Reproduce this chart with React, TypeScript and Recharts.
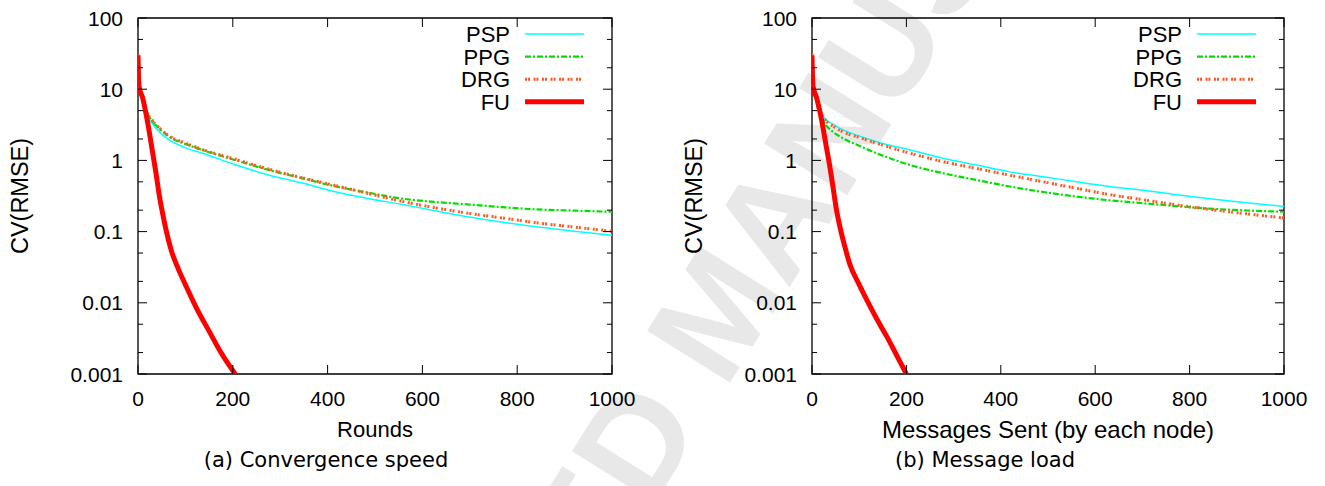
import React from 'react'
import { LineChart, Line, XAxis, YAxis, ReferenceArea, Legend, Label } from 'recharts'

const FONT = '"Liberation Sans", Arial, Helvetica, sans-serif'
const CAPTION_FONT = '"DejaVu Sans", sans-serif'

const SERIES_NAMES = ['PSP', 'PPG', 'DRG', 'FU']
const X_TICKS = [0, 200, 400, 600, 800, 1000]
const Y_MAJOR = [0.001, 0.01, 0.1, 1, 10, 100]
const Y_MINOR = [0.002, 0.005, 0.02, 0.05, 0.2, 0.5, 2, 5, 20, 50]

// (a) Convergence speed — x is rounds
const roundsX = [0, 2, 5, 10, 17, 27, 45, 66, 100, 136, 207, 277, 347, 418, 488, 558, 629, 699, 770, 840, 920, 1000]
const roundsPSP = [30, 16, 10, 6.5, 4.6, 3.5, 2.5, 1.94, 1.5, 1.26, 0.86, 0.62, 0.48, 0.36, 0.29, 0.24, 0.195, 0.16, 0.135, 0.117, 0.101, 0.089]
const roundsPPG = [30, 16, 10.5, 7, 5, 3.8, 2.8, 2.15, 1.7, 1.4, 1.0, 0.73, 0.56, 0.43, 0.35, 0.29, 0.26, 0.24, 0.22, 0.205, 0.197, 0.19]
const roundsDRG = [31, 16, 10.5, 7.2, 5, 3.9, 2.85, 2.2, 1.75, 1.42, 1.03, 0.75, 0.57, 0.44, 0.34, 0.265, 0.215, 0.18, 0.155, 0.133, 0.116, 0.101]
const roundsFUX = [0, 2, 10, 20, 30, 38, 45, 52, 60, 70, 85, 100, 125, 150, 175, 205]
const roundsFU = [30, 11, 7.5, 3.5, 1.4, 0.66, 0.32, 0.18, 0.1, 0.055, 0.03, 0.018, 0.008, 0.004, 0.002, 0.001]

// (b) Message load — x is messages sent by each node
const msgX = [0, 2, 5, 10, 17, 27, 45, 66, 100, 137, 208, 278, 349, 419, 490, 561, 631, 702, 772, 843, 920, 1000]
const msgPSP = [30, 16, 11, 7.5, 5.2, 3.9, 3.2, 2.67, 2.2, 1.83, 1.4, 1.07, 0.86, 0.69, 0.59, 0.5, 0.43, 0.38, 0.33, 0.29, 0.255, 0.225]
const msgPPG = [30, 15, 9.5, 6.3, 4.4, 3.3, 2.5, 2.04, 1.6, 1.26, 0.86, 0.66, 0.53, 0.43, 0.36, 0.31, 0.275, 0.25, 0.228, 0.21, 0.198, 0.19]
const msgDRG = [32, 16, 10.5, 7.2, 5, 3.8, 3.0, 2.5, 2.1, 1.74, 1.26, 0.96, 0.77, 0.62, 0.5, 0.405, 0.33, 0.28, 0.237, 0.205, 0.178, 0.155]
const msgFUX = [0, 2, 10, 20, 30, 38, 45, 52, 60, 70, 80, 100, 116, 140, 158, 180, 200]
const msgFU = [30, 11, 7.5, 3.8, 1.6, 0.8, 0.4, 0.2, 0.11, 0.06, 0.035, 0.018, 0.011, 0.0055, 0.0034, 0.0018, 0.001]

const STYLE: Record<string, { stroke: string; width: number; dash?: string }> = {
  PSP: { stroke: '#00ffff', width: 1.5 },
  PPG: { stroke: '#00e000', width: 2.2, dash: '6 2 2 2' },
  DRG: { stroke: '#ff5a22', width: 3, dash: '2 1 2 3.5' },
  FU: { stroke: '#ff0000', width: 5 },
}

const toPoints = (xs: number[], ys: number[]) => xs.map((x, i) => ({ x, y: ys[i] }))

const PLOT_TOP = 18
const PLOT_H = 356
const Y_AXIS_W = 138
const X_AXIS_H = 112
const CHART_H = 486
const RIGHT_PAD = 45

function YTick({ x, y, payload, plotW }: any) {
  const v = payload.value
  const major = Y_MAJOR.includes(v)
  const x0 = x + 15
  const len = major ? 9 : 5
  return (
    <g>
      <line x1={x0} x2={x0 + len} y1={y} y2={y} stroke="#000" strokeWidth={1} />
      <line x1={x0 + plotW - len} x2={x0 + plotW} y1={y} y2={y} stroke="#000" strokeWidth={1} />
      {major && (
        <text x={x} y={y} dy="0.36em" textAnchor="end" fontSize={21} fontFamily={FONT} fill="#000">
          {String(v)}
        </text>
      )}
    </g>
  )
}

function XTick({ x, y, payload }: any) {
  const y0 = y - 17
  return (
    <g>
      <line x1={x} x2={x} y1={y0} y2={y0 - 9} stroke="#000" strokeWidth={1} />
      <line x1={x} x2={x} y1={y0 - PLOT_H} y2={y0 - PLOT_H + 9} stroke="#000" strokeWidth={1} />
      <text x={x} y={y} dy="0.71em" textAnchor="middle" fontSize={21} fontFamily={FONT} fill="#000">
        {payload.value}
      </text>
    </g>
  )
}

// legend drawn in the gnuplot order: label right-aligned, sample line after it
const LegendBox = () => (
  <svg width={170} height={100} style={{ display: 'block' }}>
    {SERIES_NAMES.map((name, i) => {
      const st = STYLE[name]
      const cy = 12 + i * 22.6
      return (
        <g key={name}>
          <text x={80} y={cy} dy="0.36em" textAnchor="end" fontSize={22} fontFamily={FONT} fill="#000">
            {name}
          </text>
          <line x1={95} x2={154} y1={cy} y2={cy} stroke={st.stroke} strokeWidth={st.width} strokeDasharray={st.dash} />
        </g>
      )
    })}
  </svg>
)

type Series = { name: string; points: { x: number; y: number }[] }

function Panel({
  left,
  plotW,
  xLabel,
  xLabelSize,
  series,
}: {
  left: number
  plotW: number
  xLabel: string
  xLabelSize: number
  series: Series[]
}) {
  const width = Y_AXIS_W + plotW + RIGHT_PAD
  return (
    <div style={{ position: 'absolute', left, top: 0 }}>
      <LineChart width={width} height={CHART_H} margin={{ top: PLOT_TOP, right: RIGHT_PAD, bottom: 0, left: 0 }}>
        <XAxis
          dataKey="x"
          type="number"
          domain={[0, 1000]}
          ticks={X_TICKS}
          interval={0}
          allowDataOverflow
          axisLine={false}
          tickLine={false}
          tickSize={0}
          tickMargin={17}
          height={X_AXIS_H}
          tick={(p: any) => <XTick {...p} />}
        >
          <Label
            value={xLabel}
            position="insideTop"
            offset={47}
            style={{ fontSize: xLabelSize, fontFamily: FONT, fill: '#000' }}
          />
        </XAxis>
        <YAxis
          type="number"
          scale="log"
          domain={[0.001, 100]}
          ticks={[...Y_MAJOR, ...Y_MINOR]}
          interval={0}
          allowDataOverflow
          axisLine={false}
          tickLine={false}
          tickSize={0}
          tickMargin={15}
          width={Y_AXIS_W}
          tick={(p: any) => <YTick {...p} plotW={plotW} />}
        >
          <Label
            value="CV(RMSE)"
            angle={-90}
            position="insideLeft"
            offset={20}
            style={{ textAnchor: 'middle', fontSize: 23.5, fontFamily: FONT, fill: '#000' }}
          />
        </YAxis>
        <ReferenceArea x1={0} x2={1000} y1={0.001} y2={100} fill="none" fillOpacity={0} stroke="#000" strokeWidth={1.3} />
        {series.map((s) => (
          <Line
            key={s.name}
            name={s.name}
            data={s.points}
            dataKey="y"
            type="monotone"
            stroke={STYLE[s.name].stroke}
            strokeWidth={STYLE[s.name].width}
            strokeDasharray={STYLE[s.name].dash}
            dot={false}
            activeDot={false}
            isAnimationActive={false}
          />
        ))}
        <Legend
          layout="vertical"
          align="center"
          verticalAlign="middle"
          content={<LegendBox />}
          wrapperStyle={{ left: Y_AXIS_W + plotW - 182, top: 22, width: 170 }}
        />
      </LineChart>
    </div>
  )
}

const seriesA: Series[] = [
  { name: SERIES_NAMES[0], points: toPoints(roundsX, roundsPSP) },
  { name: SERIES_NAMES[1], points: toPoints(roundsX, roundsPPG) },
  { name: SERIES_NAMES[2], points: toPoints(roundsX, roundsDRG) },
  { name: SERIES_NAMES[3], points: toPoints(roundsFUX, roundsFU) },
]

const seriesB: Series[] = [
  { name: SERIES_NAMES[0], points: toPoints(msgX, msgPSP) },
  { name: SERIES_NAMES[1], points: toPoints(msgX, msgPPG) },
  { name: SERIES_NAMES[2], points: toPoints(msgX, msgDRG) },
  { name: SERIES_NAMES[3], points: toPoints(msgFUX, msgFU) },
]

export default function App() {
  return (
    <div style={{ position: 'absolute', left: 0, top: 0, width: 1325, height: 486, background: '#fff', overflow: 'hidden' }}>
      <svg width={1325} height={486} style={{ position: 'absolute', left: 0, top: 0 }}>
        <text
          x={715}
          y={310}
          dy="0.36em"
          textAnchor="middle"
          fontSize={142}
          fontWeight="bold"
          fontFamily={FONT}
          fill="#e8e8e8"
          transform="rotate(-58 715 310)"
        >
          ACCEPTED MANUSCRIPT
        </text>
        <text x={326} y={467} textAnchor="middle" fontSize={21} fontFamily={CAPTION_FONT} fill="#000">
          (a) Convergence speed
        </text>
        <text x={985} y={467} textAnchor="middle" fontSize={21} fontFamily={CAPTION_FONT} fill="#000">
          (b) Message load
        </text>
      </svg>
      <Panel left={0} plotW={474} xLabel="Rounds" xLabelSize={22} series={seriesA} />
      <Panel left={674} plotW={472} xLabel="Messages Sent (by each node)" xLabelSize={24} series={seriesB} />
    </div>
  )
}
